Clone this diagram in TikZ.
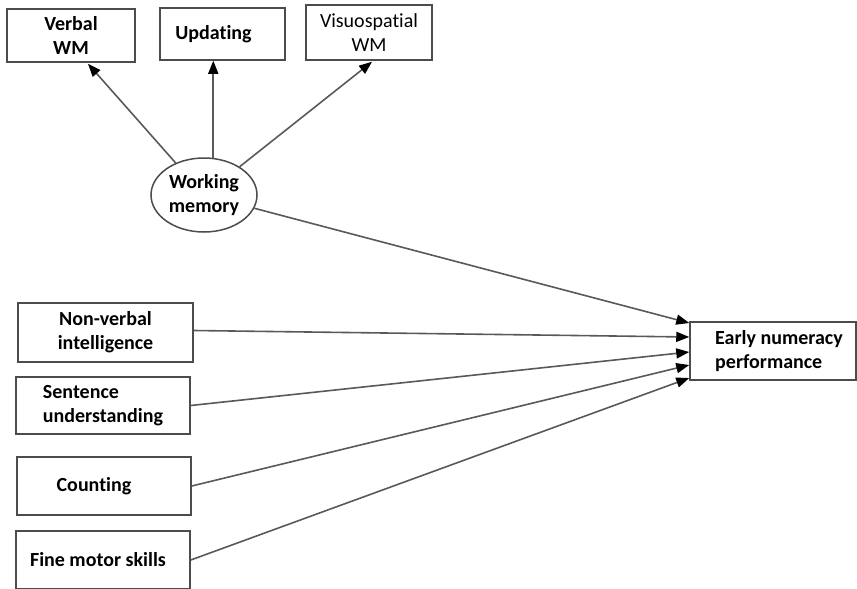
\documentclass[tikz,border=0pt]{standalone}
\usepackage{fontspec}
\setmainfont{Carlito}[Ligatures=NoCommon]
\usetikzlibrary{arrows.meta,calc,shapes.geometric}
\begin{document}
\begin{tikzpicture}[x=1pt,y=-1pt,
  box/.style={draw=gray!60!black,line width=1.5pt,rectangle,inner sep=0pt,font=\fontsize{20}{24}\selectfont\bfseries},
  conn/.style={draw=gray!70!black,line width=1.6pt,-{Triangle[length=13pt,width=10pt,color=black]}}]
\useasboundingbox (0,0) rectangle (857,589);
\node[box,minimum width=128pt,minimum height=53pt,align=center] (verbal) at (71,35.5) {Verbal\\WM};
\node[box,minimum width=125pt,minimum height=52pt] (upd) at (222.5,34) {\hspace*{-18pt}Updating};
\node[box,minimum width=126pt,minimum height=55pt,align=center,font=\fontsize{20}{24}\selectfont] (visuo) at (369,32.5) {Visuospatial\\WM};
\node[box,ellipse,minimum width=106pt,minimum height=74pt,align=center] (wm) at (204,195) {Working\\memory};
\node[box,minimum width=166pt,minimum height=58pt,align=left] (early) at (773,351) {\hspace*{12pt}Early numeracy\\\hspace*{12pt}performance};
\node[box,minimum width=175pt,minimum height=59pt,align=center] (nonverbal) at (105.5,332.5) {Non-verbal\\intelligence};
\node[box,minimum width=174pt,minimum height=57pt,align=left] (sent) at (103,405.5) {Sentence\\understanding};
\node[box,minimum width=174pt,minimum height=58pt] (count) at (104,486) {\hspace*{-20pt}Counting};
\node[box,minimum width=174pt,minimum height=58pt] (fine) at (103,560) {\hspace*{-10pt}Fine motor skills};
\draw[conn] (wm) -- ($(verbal.south)+(17,1)$);
\draw[conn] (wm.76) -- (wm.76 |- upd.south);
\draw[conn] (wm) -- ($(visuo.south)+(3,1)$);
\draw[conn] (wm) -- ($(early.west)+(0,-28)$);
\draw[conn] ($(nonverbal.east)+(0,-2)$) -- ($(early.west)+(0,-14)$);
\draw[conn] (sent.east) -- ($(early.west)+(0,1)$);
\draw[conn] (count.east) -- ($(early.west)+(0,14)$);
\draw[conn] (fine.east) -- ($(early.west)+(0,27)$);
\end{tikzpicture}
\end{document}
